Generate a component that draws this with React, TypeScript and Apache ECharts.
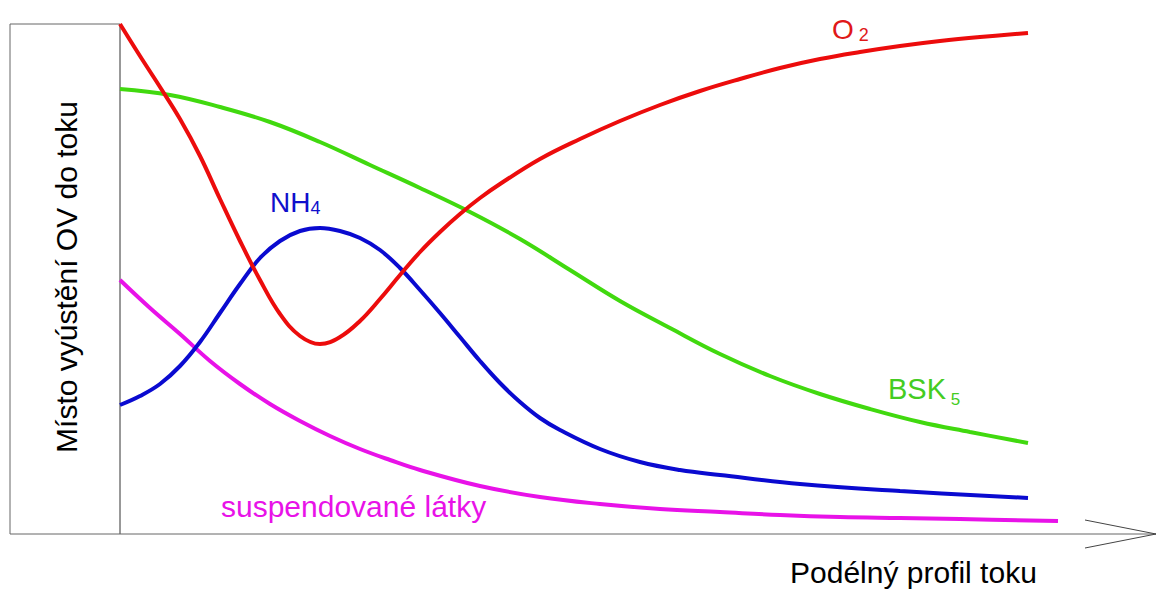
import React, { useEffect, useRef } from "react";
import * as echarts from "echarts";

// Distance along the stream (0 = outfall) and relative levels (0 = bottom of the plot)
const o2X = [0, 20, 40, 60, 80, 100, 120, 140, 160, 180, 200, 220, 240, 260, 280, 300, 320, 340, 360, 380, 420, 460, 500, 540, 580, 620, 660, 700, 740, 780, 820, 860, 908];
const o2Y = [510, 478, 447, 415, 378, 335, 293, 254, 220, 198, 190, 197, 213, 235, 259, 282, 302, 320, 336, 350, 375, 395, 413, 429, 443, 455, 466, 475, 482, 488, 493, 497, 501];

const bskX = [0, 50, 100, 150, 200, 250, 300, 350, 400, 450, 500, 550, 600, 650, 700, 750, 800, 850, 908];
const bskY = [445, 439, 427, 412, 392, 369, 346, 322, 295, 264, 233, 206, 180, 158, 140, 125, 112, 102, 91];

const nh4X = [0, 20, 40, 60, 80, 100, 120, 140, 160, 180, 200, 220, 240, 260, 280, 300, 320, 340, 360, 380, 400, 420, 440, 480, 520, 560, 600, 680, 780, 908];
const nh4Y = [129, 138, 150, 168, 192, 221, 250, 276, 293, 303, 306, 303, 296, 284, 266, 244, 221, 197, 173, 151, 132, 116, 104, 85, 72, 64, 59, 50, 43, 36];

const ssX = [0, 30, 60, 90, 120, 150, 180, 210, 240, 270, 300, 360, 420, 480, 540, 600, 660, 720, 780, 840, 938];
const ssY = [254, 226, 200, 173, 150, 130, 113, 98, 85, 74, 64, 48, 37, 30, 25, 22, 19, 17, 16, 15, 13];

const labels = {
  o2: "O",
  o2Sub: "2",
  nh4: "NH",
  nh4Sub: "4",
  bsk: "BSK",
  bskSub: "5",
  ss: "suspendované látky",
  xTitle: "Podélný profil toku",
  yTitle: "Místo vyústění OV do toku",
};

const zip = (xs: number[], ys: number[]) => xs.map((x, i) => [x, ys[i]]);

export default function App() {
  const ref = useRef<HTMLDivElement>(null);
  useEffect(() => {
    if (!ref.current) return;
    const chart = echarts.init(ref.current, null, { renderer: "svg" });
    const font = "Liberation Sans, Arial, sans-serif";
    const mkLine = (name: string, xs: number[], ys: number[], color: string) => ({
      name,
      type: "line",
      data: zip(xs, ys),
      smooth: 0.4,
      showSymbol: false,
      symbol: "none",
      lineStyle: { color, width: 4 },
      z: 3,
    });
    const sub = (color: string, main: number, small: number, drop: number) => ({
      a: { font: `${main}px ${font}`, fill: color, verticalAlign: "bottom" },
      s: { font: `${small}px ${font}`, fill: color, verticalAlign: "bottom", padding: [0, 0, -drop, 0] },
    });
    chart.setOption({
      animation: false,
      backgroundColor: "#ffffff",
      grid: { left: 120, top: 24, width: 938, height: 510, containLabel: false },
      xAxis: { type: "value", min: 0, max: 938, show: false },
      yAxis: { type: "value", min: 0, max: 510, show: false },
      series: [
        mkLine("suspendované látky", ssX, ssY, "#e812e8"),
        mkLine("BSK5", bskX, bskY, "#41d90f"),
        mkLine("NH4", nh4X, nh4Y, "#0a0ad0"),
        mkLine("O2", o2X, o2Y, "#ec0c0c"),
      ],
      graphic: [
        { type: "line", shape: { x1: 10, y1: 24, x2: 120, y2: 24 }, style: { stroke: "#666", lineWidth: 1 } },
        { type: "line", shape: { x1: 10, y1: 24, x2: 10, y2: 534 }, style: { stroke: "#666", lineWidth: 1 } },
        { type: "line", shape: { x1: 120, y1: 24, x2: 120, y2: 534 }, style: { stroke: "#333", lineWidth: 1 } },
        { type: "line", shape: { x1: 10, y1: 534, x2: 1156, y2: 534 }, style: { stroke: "#666", lineWidth: 1 } },
        {
          type: "polyline",
          shape: { points: [[1085, 520], [1156, 534], [1085, 548]] },
          style: { stroke: "#444", lineWidth: 1, fill: null },
        },
        {
          type: "text",
          x: 66,
          y: 277,
          rotation: Math.PI / 2,
          style: {
            text: labels.yTitle,
            font: `30px ${font}`,
            fill: "#000",
            align: "center",
            verticalAlign: "middle",
          },
        },
        {
          type: "text",
          x: 790,
          y: 572,
          style: { text: labels.xTitle, font: `30px ${font}`, fill: "#000", align: "left", verticalAlign: "middle" },
        },
        {
          type: "text",
          x: 221,
          y: 506,
          style: { text: labels.ss, font: `30px ${font}`, fill: "#e812e8", align: "left", verticalAlign: "middle" },
        },
        {
          type: "text",
          x: 832,
          y: 29,
          style: {
            text: `{a|${labels.o2}}{s| ${labels.o2Sub}}`,
            rich: sub("#e01818", 28, 18, 1),
            verticalAlign: "middle",
          },
        },
        {
          type: "text",
          x: 270,
          y: 202,
          style: {
            text: `{a|${labels.nh4}}{s|${labels.nh4Sub}}`,
            rich: sub("#1010cc", 28, 18, 1),
            verticalAlign: "middle",
          },
        },
        {
          type: "text",
          x: 888,
          y: 389,
          style: {
            text: `{a|${labels.bsk}}{s| ${labels.bskSub}}`,
            rich: sub("#44cc22", 29, 17, 4),
            verticalAlign: "middle",
          },
        },
      ],
    });
    return () => chart.dispose();
  }, []);
  return (
    <div
      ref={ref}
      style={{ position: "fixed", left: 0, top: 0, width: 1156, height: 590, background: "#fff" }}
    />
  );
}
